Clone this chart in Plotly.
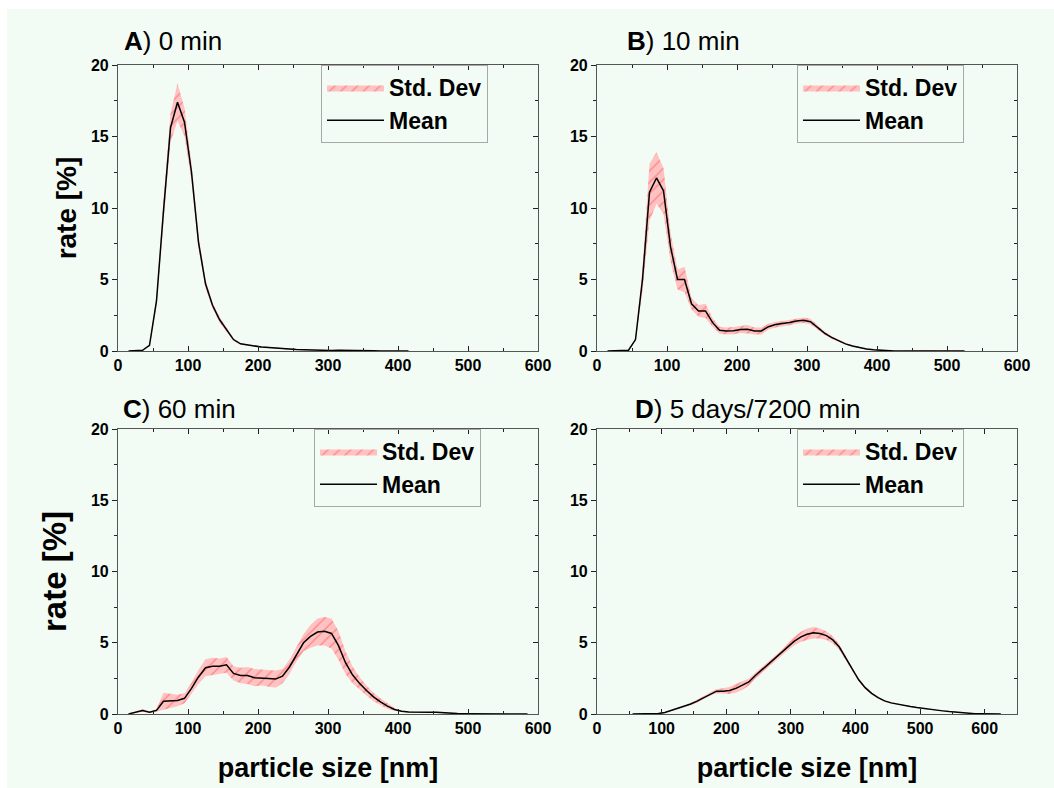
import plotly.graph_objects as go

# ---------------- data ----------------
A_x = [15, 25, 35, 45, 55, 65, 75, 85, 95, 105,
       115, 125, 135, 145, 155, 165, 175, 185, 195, 205,
       215, 225, 235, 245, 255, 265, 275, 285, 295, 305,
       315, 325, 335, 345, 355, 365, 375, 385, 395, 405, 415]
A_mean = [0, 0, 0.05, 0.4, 3.5, 9.8, 15.6, 17.4, 16.0, 12.5,
          7.6, 4.7, 3.2, 2.2, 1.5, 0.8, 0.5, 0.42, 0.32, 0.28,
          0.25, 0.2, 0.15, 0.12, 0.1, 0.08, 0.06, 0.04, 0.03, 0.04,
          0.06, 0.06, 0.04, 0.02, 0.01, 0.01, 0, 0, 0, 0, 0]
A_sd = [0, 0, 0, 0.05, 0.3, 0.7, 1.0, 1.3, 1.0, 0.6,
        0.4, 0.3, 0.2, 0.2, 0.15, 0.1, 0.05, 0.05, 0.05, 0.05,
        0.04, 0.04, 0.03, 0.03, 0.02, 0.02, 0.02, 0.02, 0.02, 0.02,
        0.02, 0.02, 0.02, 0.01, 0.01, 0, 0, 0, 0, 0, 0]

B_x = [15, 25, 35, 45, 55, 65, 75, 85, 95, 105,
       115, 125, 135, 145, 155, 165, 175, 185, 195, 205,
       215, 225, 235, 245, 255, 265, 275, 285, 295, 305,
       315, 325, 335, 345, 355, 365, 375, 385, 395, 405,
       415, 425, 435, 445, 455, 465, 475, 485, 495, 505, 515, 525]
B_mean = [0, 0, 0, 0.05, 0.8, 5.0, 11.1, 12.1, 11.2, 7.3,
          5.0, 5.0, 3.3, 2.8, 2.8, 2.0, 1.45, 1.4, 1.42, 1.5,
          1.52, 1.4, 1.4, 1.7, 1.85, 1.9, 2.0, 2.1, 2.15, 2.05,
          1.65, 1.25, 0.95, 0.7, 0.5, 0.35, 0.22, 0.14, 0.08, 0.04,
          0.02, 0, 0, 0, 0.02, 0.05, 0.04, 0.01, 0, 0, 0, 0]
B_sd = [0, 0, 0, 0, 0.1, 0.8, 2.0, 1.8, 1.6, 1.0,
        0.7, 0.9, 0.4, 0.4, 0.5, 0.3, 0.25, 0.25, 0.25, 0.25,
        0.3, 0.25, 0.25, 0.2, 0.2, 0.2, 0.2, 0.2, 0.2, 0.2,
        0.15, 0.12, 0.1, 0.08, 0.06, 0.05, 0.04, 0.03, 0.02, 0.02,
        0.01, 0, 0, 0, 0.01, 0.02, 0.02, 0.01, 0, 0, 0, 0]

C_x = [15, 25, 35, 45, 55, 65, 75, 85, 95, 105,
       115, 125, 135, 145, 155, 165, 175, 185, 195, 205,
       215, 225, 235, 245, 255, 265, 275, 285, 295, 305,
       315, 325, 335, 345, 355, 365, 375, 385, 395, 405,
       415, 425, 435, 445, 455, 465, 475, 485, 495, 505,
       515, 525, 535, 545, 555, 565, 575, 585]
C_mean = [0, 0.12, 0.25, 0.12, 0.25, 0.9, 0.9, 0.95, 1.1, 1.8,
          2.6, 3.25, 3.35, 3.35, 3.45, 2.85, 2.7, 2.7, 2.55, 2.55,
          2.5, 2.45, 2.65, 3.3, 4.2, 5.0, 5.45, 5.75, 5.8, 5.65,
          4.8, 3.6, 2.75, 2.15, 1.65, 1.2, 0.85, 0.55, 0.32, 0.2,
          0.14, 0.12, 0.12, 0.12, 0.12, 0.08, 0.05, 0.03, 0.02, 0.02,
          0.01, 0.01, 0.01, 0.01, 0.01, 0, 0, 0]
C_sd = [0, 0.05, 0.1, 0.05, 0.1, 0.6, 0.5, 0.4, 0.35, 0.4,
        0.5, 0.6, 0.6, 0.55, 0.55, 0.5, 0.55, 0.6, 0.6, 0.55,
        0.55, 0.6, 0.5, 0.5, 0.5, 0.6, 0.8, 0.95, 1.0, 1.05,
        1.0, 0.8, 0.6, 0.45, 0.35, 0.3, 0.25, 0.2, 0.1, 0.05,
        0.03, 0.02, 0.02, 0.02, 0.02, 0.02, 0.01, 0.01, 0, 0,
        0, 0, 0, 0, 0, 0, 0, 0]

D_x = [55, 65, 75, 85, 95, 105, 115, 125, 135, 145,
       155, 165, 175, 185, 195, 205, 215, 225, 235, 245,
       255, 265, 275, 285, 295, 305, 315, 325, 335, 345,
       355, 365, 375, 385, 395, 405, 415, 425, 435, 445,
       455, 465, 475, 485, 495, 505, 515, 525, 535, 545,
       555, 565, 575, 585, 595, 605, 615, 625]
D_mean = [0, 0, 0, 0, 0.03, 0.1, 0.25, 0.38, 0.5, 0.7,
          0.9, 1.15, 1.4, 1.6, 1.6, 1.65, 1.8, 2.0, 2.25, 2.7,
          3.1, 3.5, 3.85, 4.25, 4.7, 5.1, 5.4, 5.6, 5.7, 5.65,
          5.5, 5.2, 4.7, 3.9, 3.1, 2.4, 1.85, 1.45, 1.15, 0.92,
          0.78, 0.68, 0.6, 0.52, 0.45, 0.38, 0.32, 0.27, 0.22, 0.17,
          0.12, 0.08, 0.05, 0.02, 0.01, 0, 0, 0]
D_sd = [0, 0, 0, 0, 0.02, 0.03, 0.05, 0.05, 0.06, 0.08,
        0.1, 0.1, 0.12, 0.15, 0.2, 0.25, 0.3, 0.3, 0.25, 0.2,
        0.2, 0.2, 0.2, 0.2, 0.25, 0.3, 0.35, 0.4, 0.4, 0.35,
        0.3, 0.25, 0.2, 0.15, 0.12, 0.1, 0.1, 0.08, 0.06, 0.05,
        0.05, 0.04, 0.04, 0.03, 0.03, 0.03, 0.02, 0.02, 0.02, 0.02,
        0.01, 0.01, 0, 0, 0, 0, 0, 0]

panel_titles = ["<b>A</b>) 0 min", "<b>B</b>) 10 min", "<b>C</b>) 60 min", "<b>D</b>) 5 days/7200 min"]
x_ticks = [0, 100, 200, 300, 400, 500, 600]
y_ticks = [0, 5, 10, 15, 20]
x_title = "particle size [nm]"
y_title = "rate [%]"

# ---------------- layout geometry (pixels) ----------------
W, H = 1054, 788
FONT = "Liberation Sans, Arial, sans-serif"
BG = "#f2fcf4"

panels = [
    dict(x=A_x, m=A_mean, s=A_sd, box=(118, 538, 65, 351), xmax=600, title_xy=(122, 41),
         leg_xy=(321, 65), ytitle=28, ystand=6, xtitle=False),
    dict(x=B_x, m=B_mean, s=B_sd, box=(597, 1017, 65, 351), xmax=600, title_xy=(625, 41),
         leg_xy=(797, 65), ytitle=0, ystand=0, xtitle=False),
    dict(x=C_x, m=C_mean, s=C_sd, box=(118, 538, 429, 714), xmax=600, title_xy=(121, 409),
         leg_xy=(314, 429), ytitle=33, ystand=14, xtitle=True),
    dict(x=D_x, m=D_mean, s=D_sd, box=(597, 1017, 429, 714), xmax=650, title_xy=(633, 409),
         leg_xy=(797, 429), ytitle=0, ystand=0, xtitle=True),
]

fig = go.Figure()
layout = dict(width=W, height=H, autosize=False,
              margin=dict(l=0, r=0, t=0, b=0, pad=0, autoexpand=False),
              paper_bgcolor=BG, plot_bgcolor=BG,
              font=dict(family=FONT, color="black"),
              showlegend=True, annotations=[], shapes=[])

tickfont = dict(family=FONT, size=16, color="black", weight="bold")

for i, p in enumerate(panels):
    n = i + 1
    xa = "x" if n == 1 else f"x{n}"
    ya = "y" if n == 1 else f"y{n}"
    ya_r = f"y{n + 4}"
    leg = "legend" if n == 1 else f"legend{n}"
    x0, x1, y0, y1 = p["box"]
    lower = [max(0.0, m - s) for m, s in zip(p["m"], p["s"])]
    upper = [m + s for m, s in zip(p["m"], p["s"])]

    fig.add_trace(go.Scatter(x=p["x"], y=lower, mode="lines", line=dict(width=0),
                             showlegend=False, hoverinfo="skip", xaxis=xa, yaxis=ya, legend=leg))
    fig.add_trace(go.Scatter(x=p["x"], y=upper, mode="lines", line=dict(width=0),
                             fill="tonexty", fillcolor="#ffc2c2",
                             fillpattern=dict(shape="/", fgcolor="#ff4d4d", bgcolor="#ffc2c2",
                                              size=8, solidity=0.18),
                             name="Std. Dev", xaxis=xa, yaxis=ya, legend=leg))
    fig.add_trace(go.Scatter(x=p["x"], y=p["m"], mode="lines",
                             line=dict(color="black", width=1.5),
                             name="Mean", xaxis=xa, yaxis=ya, legend=leg))
    fig.add_trace(go.Scatter(x=[], y=[], xaxis=xa, yaxis=ya_r, showlegend=False, hoverinfo="skip"))

    xdom = [x0 / W, x1 / W]
    ydom = [1 - y1 / H, 1 - y0 / H]
    xaxis = dict(domain=xdom, range=[0, p["xmax"]], anchor=ya, automargin=False,
                 tickvals=x_ticks, ticks="inside", ticklen=5, tickwidth=1, tickcolor="#222",
                 showline=True, linecolor="#555", linewidth=1.2, mirror="ticks",
                 showgrid=False, zeroline=False, tickfont=tickfont,
                 minor=dict(dtick=50, tick0=0, ticks="inside", ticklen=3, tickcolor="#222", showgrid=False))
    if p["xtitle"]:
        xaxis["title"] = dict(text=f"<b>{x_title}</b>", font=dict(family=FONT, size=27, color="black"),
                              standoff=21)
    yaxis = dict(domain=ydom, range=[0, 20], anchor=xa, automargin=False,
                 tickvals=y_ticks, ticks="outside", ticklen=5, tickwidth=1, tickcolor="#222",
                 showline=True, linecolor="#555", linewidth=1.2, mirror=True,
                 showgrid=False, zeroline=False, tickfont=tickfont,
                 minor=dict(dtick=2.5, tick0=0, ticks="outside", ticklen=3, tickcolor="#222", showgrid=False))
    if p["ytitle"]:
        yaxis["title"] = dict(text=f"<b>{y_title}</b>", font=dict(family=FONT, size=p["ytitle"], color="black"),
                              standoff=p["ystand"])
    yaxis_r = dict(overlaying=ya, side="right", anchor=xa, range=[0, 20], automargin=False,
                   tickvals=y_ticks, ticks="inside", ticklen=5, tickwidth=1, tickcolor="#222",
                   showticklabels=False, showline=False, showgrid=False, zeroline=False,
                   minor=dict(dtick=2.5, tick0=0, ticks="inside", ticklen=3, tickcolor="#222", showgrid=False))
    layout["xaxis" if n == 1 else f"xaxis{n}"] = xaxis
    layout["yaxis" if n == 1 else f"yaxis{n}"] = yaxis
    layout[f"yaxis{n + 4}"] = yaxis_r

    lx, ly = p["leg_xy"]
    layout[leg] = dict(x=lx / W, y=1 - ly / H, xanchor="left", yanchor="top",
                       xref="paper", yref="paper",
                       bgcolor="rgba(0,0,0,0)", bordercolor="#a8a8a8", borderwidth=1,
                       font=dict(family=FONT, size=23, color="black", weight="bold"),
                       itemwidth=57, traceorder="normal", tracegroupgap=0)

    tx, ty = p["title_xy"]
    layout["annotations"].append(dict(text=panel_titles[i], x=tx / W, y=1 - ty / H,
                                      xref="paper", yref="paper", xanchor="left", yanchor="middle",
                                      showarrow=False, font=dict(family=FONT, size=26, color="black")))

# white margin strips at top and left
layout["shapes"].append(dict(type="rect", xref="paper", yref="paper", x0=0, x1=1, y0=1 - 9 / H, y1=1,
                             fillcolor="white", line=dict(width=0), layer="below"))
layout["shapes"].append(dict(type="rect", xref="paper", yref="paper", x0=0, x1=7 / W, y0=0, y1=1,
                             fillcolor="white", line=dict(width=0), layer="below"))

fig.update_layout(**layout)
fig.write_html("out.html",
               config={"displayModeBar": False, "responsive": False},
               post_script="document.body.style.margin='0';document.body.style.padding='0';"
                           "document.body.style.background='" + BG + "';"
                           "document.documentElement.style.background='" + BG + "';"
                           "document.documentElement.style.overflow='hidden';")
